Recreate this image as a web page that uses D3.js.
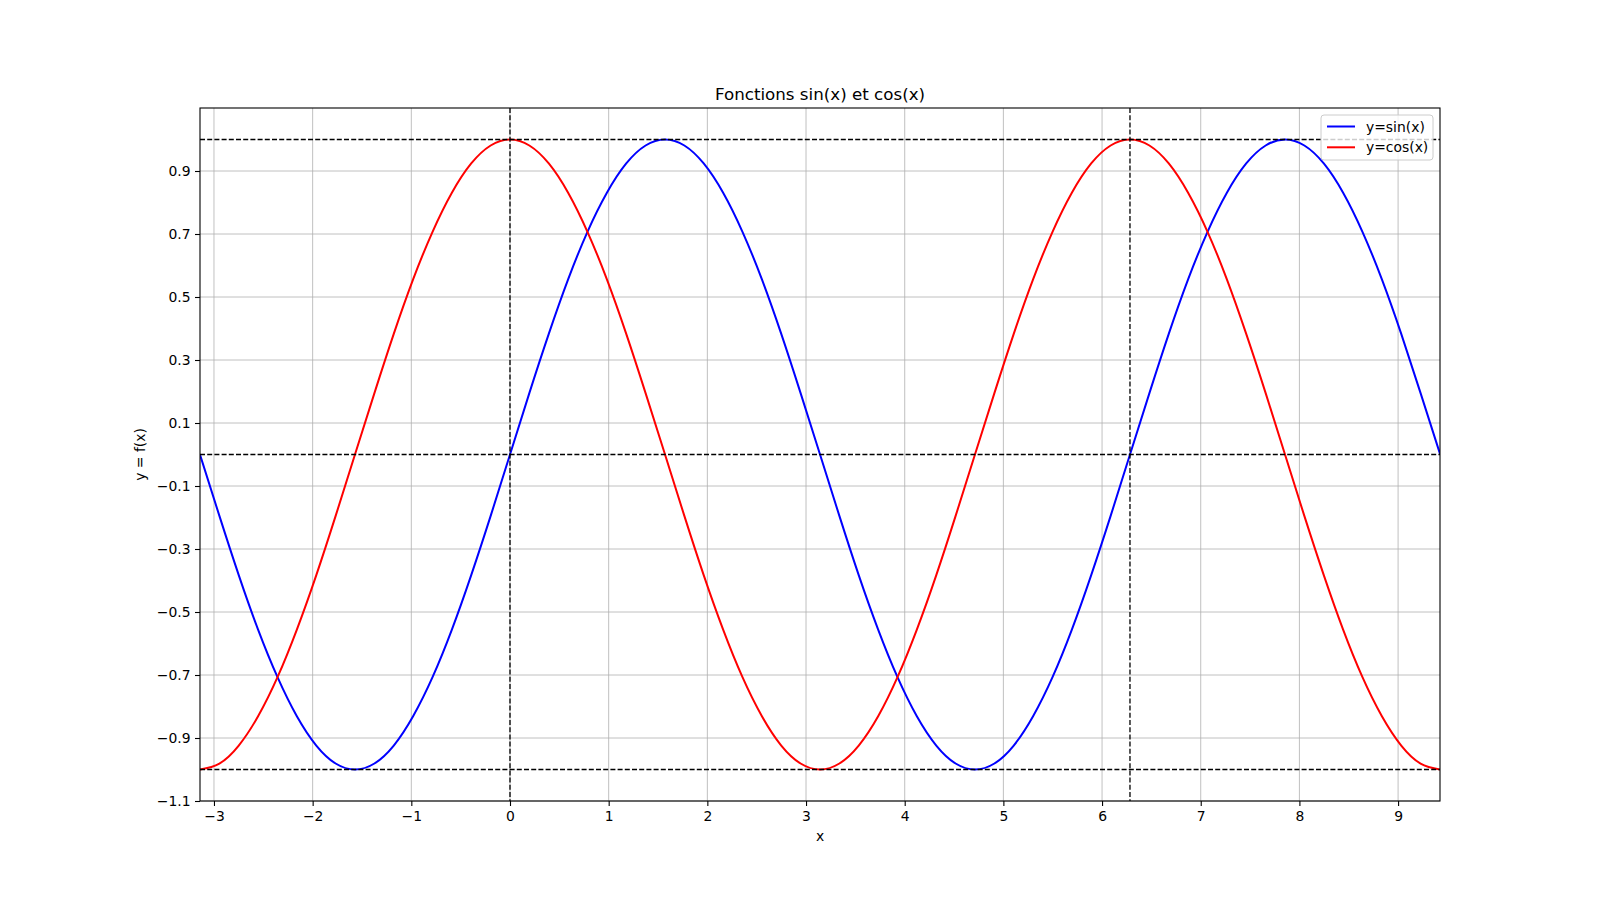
<!DOCTYPE html>
<html><head><meta charset="utf-8">
<script src="https://cdn.jsdelivr.net/npm/d3@7"></script>
<style>body{margin:0;background:#fff}svg{display:block;font-family:"DejaVu Sans",sans-serif}</style>
</head><body>
<svg id="c" width="1600" height="900"></svg>
<script>
const xValues = [-3.142,-2.945,-2.749,-2.553,-2.356,-2.160,-1.963,-1.767,-1.571,-1.374,-1.178,-0.982,-0.785,-0.589,-0.393,-0.196,
  0,0.196,0.393,0.589,0.785,0.982,1.178,1.374,1.571,1.767,1.963,2.160,2.356,2.553,2.749,2.945,
  3.142,3.338,3.534,3.731,3.927,4.123,4.320,4.516,4.712,4.909,5.105,5.301,5.498,5.694,5.890,6.087,
  6.283,6.480,6.676,6.872,7.069,7.265,7.461,7.658,7.854,8.050,8.247,8.443,8.639,8.836,9.032,9.228,9.425];
const sinValues = [0,-0.195,-0.383,-0.556,-0.707,-0.831,-0.924,-0.981,-1,-0.981,-0.924,-0.831,-0.707,-0.556,-0.383,-0.195,
  0,0.195,0.383,0.556,0.707,0.831,0.924,0.981,1,0.981,0.924,0.831,0.707,0.556,0.383,0.195,
  0,-0.195,-0.383,-0.556,-0.707,-0.831,-0.924,-0.981,-1,-0.981,-0.924,-0.831,-0.707,-0.556,-0.383,-0.195,
  0,0.195,0.383,0.556,0.707,0.831,0.924,0.981,1,0.981,0.924,0.831,0.707,0.556,0.383,0.195,0.002];
const cosValues = [-1,-0.981,-0.924,-0.831,-0.707,-0.556,-0.383,-0.195,0,0.195,0.383,0.556,0.707,0.831,0.924,0.981,
  1,0.981,0.924,0.831,0.707,0.556,0.383,0.195,0,-0.195,-0.383,-0.556,-0.707,-0.831,-0.924,-0.981,
  -1,-0.981,-0.924,-0.831,-0.707,-0.556,-0.383,-0.195,0,0.195,0.383,0.556,0.707,0.831,0.924,0.981,
  1,0.981,0.924,0.831,0.707,0.556,0.383,0.195,0,-0.195,-0.383,-0.556,-0.707,-0.831,-0.924,-0.981,-1];
const seriesNames = ["y=sin(x)","y=cos(x)"];
const seriesColors = ["#0000ff","#ff0000"];
const xTicks = [-3,-2,-1,0,1,2,3,4,5,6,7,8,9];
const yTicks = [-1.1,-0.9,-0.7,-0.5,-0.3,-0.1,0.1,0.3,0.5,0.7,0.9];
const hRefLines = [1,0,-1];
const vRefLines = [0,6.283];
const xDomain = [-3.1416,9.4248];
const yDomain = [-1.1,1.1];

const L=200,R=1440,T=108,B=801;
const svg=d3.select("#c");
const x=d3.scaleLinear().domain(xDomain).range([L,R]);
const y=d3.scaleLinear().domain(yDomain).range([B,T]);
const fmtMinus=s=>s.replace("-","\u2212");

// grid
const g=svg.append("g");
g.selectAll(".gx").data(xTicks).join("line").attr("x1",d=>x(d)).attr("x2",d=>x(d)).attr("y1",T).attr("y2",B).attr("stroke","#b0b0b0").attr("stroke-width",0.8);
g.selectAll(".gy").data(yTicks).join("line").attr("y1",d=>y(d)).attr("y2",d=>y(d)).attr("x1",L).attr("x2",R).attr("stroke","#b0b0b0").attr("stroke-width",0.8);

// curves
svg.append("clipPath").attr("id","cp").append("rect").attr("x",L).attr("y",T).attr("width",R-L).attr("height",B-T);
const line=d3.line().x(d=>x(d[0])).y(d=>y(d[1])).curve(d3.curveNatural);
[sinValues,cosValues].forEach((vals,i)=>{
  svg.append("path").attr("d",line(xValues.map((xv,j)=>[xv,vals[j]]))).attr("fill","none").attr("stroke",seriesColors[i]).attr("stroke-width",2).attr("clip-path","url(#cp)");
});

// reference lines
svg.selectAll(".hr").data(hRefLines).join("line").attr("x1",L).attr("x2",R).attr("y1",d=>y(d)).attr("y2",d=>y(d)).attr("stroke","#000").attr("stroke-width",1.3).attr("stroke-dasharray","5,2.2");
svg.selectAll(".vr").data(vRefLines).join("line").attr("y1",T).attr("y2",B).attr("x1",d=>x(d)).attr("x2",d=>x(d)).attr("stroke","#000").attr("stroke-width",1.3).attr("stroke-dasharray","5,2.2");

// axes
const xa=svg.append("g").attr("transform",`translate(0,${B})`).call(d3.axisBottom(x).tickValues(xTicks).tickSize(5).tickPadding(5.5).tickFormat(d=>fmtMinus(String(d))));
const ya=svg.append("g").attr("transform",`translate(${L},0)`).call(d3.axisLeft(y).tickValues(yTicks).tickSize(5).tickPadding(4.5).tickFormat(d=>fmtMinus(d.toFixed(1))));
[xa,ya].forEach(a=>{a.select(".domain").remove();a.selectAll("text").attr("font-size",13.9).attr("font-family","DejaVu Sans").attr("fill","#000");a.selectAll("line").attr("stroke","#000").attr("stroke-width",1.1);});
svg.append("rect").attr("x",L).attr("y",T).attr("width",R-L).attr("height",B-T).attr("fill","none").attr("stroke","#000").attr("stroke-width",1.1);

// labels
svg.append("text").attr("x",(L+R)/2).attr("y",100).attr("text-anchor","middle").attr("font-size",16.7).text("Fonctions sin(x) et cos(x)");
svg.append("text").attr("x",(L+R)/2).attr("y",841).attr("text-anchor","middle").attr("font-size",13.9).text("x");
svg.append("text").attr("transform",`translate(145,${(T+B)/2}) rotate(-90)`).attr("text-anchor","middle").attr("font-size",13.9).text("y = f(x)");

// legend
const lg=svg.append("g");
lg.append("rect").attr("x",1321).attr("y",115).attr("width",112).attr("height",45).attr("rx",3).attr("fill","#fff").attr("fill-opacity",0.8).attr("stroke","#cccccc").attr("stroke-width",1);
seriesNames.forEach((n,i)=>{
  const yy=126.5+i*20.8;
  lg.append("line").attr("x1",1327).attr("x2",1355).attr("y1",yy).attr("y2",yy).attr("stroke",seriesColors[i]).attr("stroke-width",2);
  lg.append("text").attr("x",1366).attr("y",yy+5).attr("font-size",13.9).text(n);
});
</script>
</body></html>
